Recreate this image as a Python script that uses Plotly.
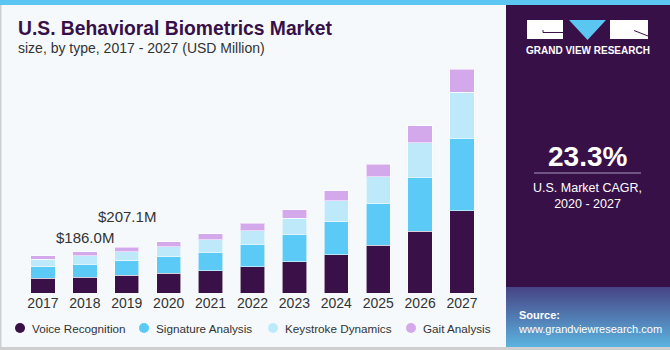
import plotly.graph_objects as go

# ---------------- data ----------------
years = ["2017", "2018", "2019", "2020", "2021", "2022", "2023", "2024", "2025", "2026", "2027"]
series_names = ["Voice Recognition", "Signature Analysis", "Keystroke Dynamics", "Gait Analysis"]
voice_recognition = [67, 73, 81, 90, 101, 118, 142, 172, 215, 278, 370]
signature_analysis = [52, 57, 64.5, 73, 84, 102, 120, 148, 186, 242, 324]
keystroke_dynamics = [34.5, 38, 40.6, 45, 54, 61, 75, 94, 120, 154, 207]
gait_analysis = [15.7, 18, 21, 23.7, 27, 33, 37, 45, 58, 77.5, 102]
label_years = ["2018", "2019"]
label_texts = ["$186.0M", "$207.1M"]
label_yshift = [12, 28]

series_values = [voice_recognition, signature_analysis, keystroke_dynamics, gait_analysis]
colors = ["#3A1048", "#5CCAF7", "#BEE9FA", "#D4A9EC"]

W, H = 670, 350
def X(px):
    return px / W
def Y(py):
    return 1 - py / H

BG = "#F5F9FC"
PURPLE = "#381048"
TXT = "#333333"

fig = go.Figure()
for name, vals, col in zip(series_names, series_values, colors):
    fig.add_trace(go.Bar(
        x=years, y=vals, name=name, marker_color=col,
        marker_line=dict(width=1, color="rgba(255,255,255,0.55)"),
        showlegend=False, hoverinfo="x+y+name",
    ))

totals = [sum(v[i] for v in series_values) for i in range(len(years))]

shapes = []
annotations = []

# background panels
shapes.append(dict(type="rect", xref="paper", yref="paper", x0=X(506), x1=X(670), y0=Y(287), y1=Y(4),
                   fillcolor=PURPLE, line_width=0, layer="below"))
# source gradient panel
top_c = (72, 70, 135)
bot_c = (92, 178, 222)
n = 30
y_top, y_bot = 287, 347
for i in range(n):
    t = i / (n - 1)
    c = tuple(int(top_c[k] + (bot_c[k] - top_c[k]) * t) for k in range(3))
    y0 = y_top + (y_bot - y_top) * i / n
    y1 = y_top + (y_bot - y_top) * (i + 1) / n
    shapes.append(dict(type="rect", xref="paper", yref="paper", x0=X(506), x1=X(670), y0=Y(y1 + 0.3), y1=Y(y0),
                       fillcolor="rgb(%d,%d,%d)" % c, line_width=0, layer="below"))
# top blue bar
shapes.append(dict(type="rect", xref="paper", yref="paper", x0=0, x1=1, y0=Y(5), y1=1,
                   fillcolor="#5CC6F2", line_width=0, layer="above"))
# borders
shapes.append(dict(type="rect", xref="paper", yref="paper", x0=0, x1=X(1.5), y0=0, y1=Y(5),
                   fillcolor="#CFCFCF", line_width=0, layer="above"))
shapes.append(dict(type="rect", xref="paper", yref="paper", x0=0, x1=1, y0=0, y1=Y(347),
                   fillcolor="#CFCFCF", line_width=0, layer="above"))

# logo
shapes.append(dict(type="rect", xref="paper", yref="paper", x0=X(527), x1=X(563), y0=Y(39), y1=Y(20),
                   fillcolor="white", line_width=0))
shapes.append(dict(type="path", xref="paper", yref="paper",
                   path="M %f,%f L %f,%f L %f,%f Z" % (X(569), Y(20), X(606), Y(20), X(587.5), Y(40)),
                   fillcolor="#5CC6F2", line_width=0))
shapes.append(dict(type="rect", xref="paper", yref="paper", x0=X(610), x1=X(648), y0=Y(39), y1=Y(20),
                   fillcolor="white", line_width=0))
shapes.append(dict(type="path", xref="paper", yref="paper",
                   path="M %f,%f L %f,%f L %f,%f" % (X(543), Y(30), X(543), Y(32.5), X(563), Y(32.5)),
                   line=dict(color=PURPLE, width=1)))
shapes.append(dict(type="path", xref="paper", yref="paper",
                   path="M %f,%f L %f,%f" % (X(634), Y(30.5), X(648), Y(36)),
                   line=dict(color=PURPLE, width=1)))
annotations.append(dict(text="<b>GRAND VIEW RESEARCH</b>", xref="paper", yref="paper", x=X(587.5), y=Y(51),
                        xanchor="center", yanchor="middle", showarrow=False,
                        font=dict(family="Liberation Sans", size=10, color="white")))

# CAGR block
annotations.append(dict(text="<b>23.3%</b>", xref="paper", yref="paper", x=X(587), y=Y(156),
                        xanchor="center", yanchor="middle", showarrow=False,
                        font=dict(family="Liberation Sans", size=28, color="white")))
shapes.append(dict(type="line", xref="paper", yref="paper", x0=X(534), x1=X(641), y0=Y(173), y1=Y(173),
                   line=dict(color="#A898BC", width=1.2)))
annotations.append(dict(text="U.S. Market CAGR,<br>2020 - 2027", xref="paper", yref="paper", x=X(587), y=Y(196),
                        xanchor="center", yanchor="middle", showarrow=False,
                        font=dict(family="Liberation Sans", size=12.5, color="white")))

# source
annotations.append(dict(text="<b>Source:</b><br>www.grandviewresearch.com", xref="paper", yref="paper",
                        x=X(516), y=Y(322), xanchor="left", yanchor="middle", align="left", showarrow=False,
                        font=dict(family="Liberation Sans", size=11, color="white")))

# titles
annotations.append(dict(text="<b>U.S. Behavioral Biometrics Market</b>", xref="paper", yref="paper",
                        x=X(16), y=Y(28.5), xanchor="left", yanchor="middle", showarrow=False,
                        font=dict(family="Liberation Sans", size=19.3, color=PURPLE)))
annotations.append(dict(text="size, by type, 2017 - 2027 (USD Million)", xref="paper", yref="paper",
                        x=X(16), y=Y(48), xanchor="left", yanchor="middle", showarrow=False,
                        font=dict(family="Liberation Sans", size=14, color=TXT)))

# value labels (category index position on the x axis)
for yr, txt, ys in zip(label_years, label_texts, label_yshift):
    i = years.index(yr)
    annotations.append(dict(text=txt, x=i, y=totals[i], xref="x", yref="y", xanchor="center",
                            yanchor="bottom", yshift=ys - 8, showarrow=False,
                            font=dict(family="Liberation Sans", size=15, color=TXT)))

# manual legend
legend_marker_x = [20, 144, 273, 411]
for name, col, mx in zip(series_names, colors, legend_marker_x):
    r = 5
    shapes.append(dict(type="circle", xref="paper", yref="paper", x0=X(mx - r), x1=X(mx + r),
                       y0=Y(328 + r), y1=Y(328 - r), fillcolor=col, line_width=0))
    annotations.append(dict(text=name, xref="paper", yref="paper", x=X(mx + 10), y=Y(328),
                            xanchor="left", yanchor="middle", showarrow=False,
                            font=dict(family="Liberation Sans", size=11.7, color=TXT)))

fig.update_layout(
    width=W, height=H, margin=dict(l=0, r=0, t=0, b=0),
    paper_bgcolor=BG, plot_bgcolor=BG,
    barmode="stack", bargap=0.42,
    shapes=shapes, annotations=annotations,
    xaxis=dict(domain=[X(22), X(483)], type="category", range=[-0.5, len(years) - 0.5],
               showgrid=False, zeroline=False, showline=False,
               ticks="", tickfont=dict(family="Liberation Sans", size=14, color=TXT), fixedrange=True),
    yaxis=dict(domain=[Y(293.3), Y(60)], range=[0, 1045], showgrid=False, zeroline=False,
               showticklabels=False, showline=False, fixedrange=True),
    showlegend=False,
)

fig.write_html("out.html")
